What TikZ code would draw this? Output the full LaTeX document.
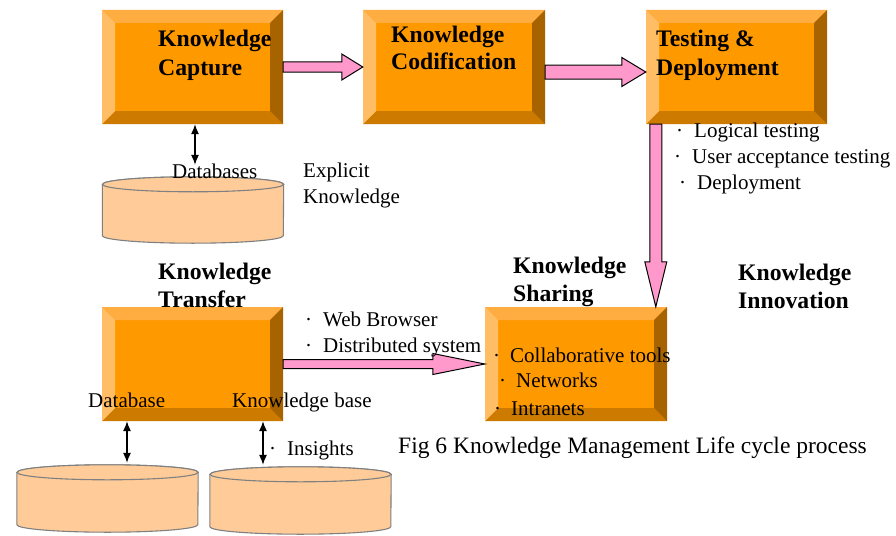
\documentclass[tikz,border=0pt]{standalone}
\usepackage{fontspec}
\setmainfont{Liberation Serif}
\usetikzlibrary{calc,arrows.meta}

\definecolor{kmface}{HTML}{FF9900}
\definecolor{kmtop}{HTML}{FFAD40}
\definecolor{kmleft}{HTML}{FFBE66}
\definecolor{kmright}{HTML}{A66300}
\definecolor{kmbottom}{HTML}{CC7A00}
\definecolor{kmdb}{HTML}{FFCC99}
\definecolor{kmdbline}{HTML}{808080}
\definecolor{kmpink}{HTML}{FF99CC}

\newcommand\kmbev{13pt}

% horizontal block arrow: start, end, shaft half-height, head half-height, head length
\newcommand\kmharrow[5]{%
  \filldraw[pinkarrow] let \p1=(#1), \p2=(#2) in
    (\x1,\y1+#3) -- (\x2-#5,\y1+#3) -- (\x2-#5,\y1+#4) -- (\x2,\y1)
    -- (\x2-#5,\y1-#4) -- (\x2-#5,\y1-#3) -- (\x1,\y1-#3) -- cycle;}
% downward block arrow: start, end, shaft half-width, head half-width, head length
\newcommand\kmvarrow[5]{%
  \filldraw[pinkarrow] let \p1=(#1), \p2=(#2) in
    (\x1-#3,\y1) -- (\x1-#3,\y2+#5) -- (\x1-#4,\y2+#5) -- (\x1,\y2)
    -- (\x1+#4,\y2+#5) -- (\x1+#3,\y2+#5) -- (\x1+#3,\y1) -- cycle;}
% cylinder drawn over an invisible rectangle node
\newcommand\kmcyl[1]{%
  \filldraw[dbshape] ([yshift=-7.5pt]#1.north west) -- ([yshift=7.5pt]#1.south west)
    arc[start angle=180, end angle=360, x radius=90.5pt, y radius=7.5pt]
    -- ([yshift=-7.5pt]#1.north east)
    arc[start angle=0, end angle=180, x radius=90.5pt, y radius=7.5pt] -- cycle;
  \draw[dbshape] ([yshift=-7.5pt]#1.north) ellipse [x radius=90.5pt, y radius=7.5pt];}

\tikzset{
  bevelbox/.style={rectangle, inner sep=0pt, minimum width=#1, minimum height=114pt,
    fill=kmface, path picture={
      \fill[kmtop] (path picture bounding box.north west) -- (path picture bounding box.north east)
        -- ([xshift=-\kmbev,yshift=-\kmbev]path picture bounding box.north east)
        -- ([xshift=\kmbev,yshift=-\kmbev]path picture bounding box.north west) -- cycle;
      \fill[kmbottom] (path picture bounding box.south west) -- (path picture bounding box.south east)
        -- ([xshift=-\kmbev,yshift=\kmbev]path picture bounding box.south east)
        -- ([xshift=\kmbev,yshift=\kmbev]path picture bounding box.south west) -- cycle;
      \fill[kmleft] (path picture bounding box.north west) -- (path picture bounding box.south west)
        -- ([xshift=\kmbev,yshift=\kmbev]path picture bounding box.south west)
        -- ([xshift=\kmbev,yshift=-\kmbev]path picture bounding box.north west) -- cycle;
      \fill[kmright] (path picture bounding box.north east) -- (path picture bounding box.south east)
        -- ([xshift=-\kmbev,yshift=\kmbev]path picture bounding box.south east)
        -- ([xshift=-\kmbev,yshift=-\kmbev]path picture bounding box.north east) -- cycle;
    }},
  bevelbox/.default=181pt,
  dbnode/.style={rectangle, inner sep=0pt, minimum width=181pt, minimum height=#1},
  dbshape/.style={fill=kmdb, draw=kmdbline, line width=1.1pt},
  pinkarrow/.style={fill=kmpink, draw=black, line width=1pt, line join=miter},
  dblarrow/.style={{Latex[length=10pt,width=8pt]}-{Latex[length=10pt,width=8pt]}, line width=1.1pt},
  lbl/.style={anchor=base west, inner sep=0pt, font=\fontsize{21}{25}\selectfont},
  captext/.style={anchor=base west, inner sep=0pt, font=\fontsize{23.5}{28}\selectfont},
  head/.style={anchor=base west, inner sep=0pt, font=\fontsize{23.7}{28}\selectfont\bfseries},
}

\begin{document}
\begin{tikzpicture}[x=1pt, y=-1pt]
  \fill[white] (0,0) rectangle (896,535);
  \useasboundingbox (0,0) rectangle (896,535);

  % process boxes
  \node[bevelbox] (capt) at (192.5,67) {};
  \node[bevelbox=182pt] (codi) at (454,67) {};
  \node[bevelbox] (test) at (736.5,67) {};
  \node[bevelbox] (trans) at (192.5,364) {};
  \node[bevelbox=182pt] (share) at (576,364) {};

  % data stores
  \node[dbnode=66pt] (db1) at (193,210) {};
  \node[dbnode=67pt] (db2) at (107.5,498.5) {};
  \node[dbnode=67pt] (db3) at (300.5,500.5) {};
  \kmcyl{db1}
  \kmcyl{db2}
  \kmcyl{db3}

  % flow between stages
  \kmharrow{capt.east}{codi.west}{5pt}{13pt}{21pt}
  \kmharrow{[yshift=-5pt]codi.east}{test.west}{7pt}{14.5pt}{24pt}
  \kmvarrow{[xshift=10pt]test.south west}{share.north}{6pt}{11pt}{45pt}
  \kmharrow{trans.east}{share.west}{4.5pt}{10.5pt}{52pt}

  % store access
  \draw[dblarrow] ([xshift=2pt]db1.north |- capt.south) -- ([xshift=2pt,yshift=12pt]db1.north);
  \draw[dblarrow] ([xshift=19.5pt]db2.north |- trans.south) -- ([xshift=19.5pt,yshift=2pt]db2.north);
  \draw[dblarrow] ([xshift=-37.5pt]db3.north |- trans.south) -- ([xshift=-37.5pt,yshift=2pt]db3.north);

  % stage titles
  \node[head] (captA) at (158,47) {Knowledge};
  \node[head] (captB) at (158,75) {Capture};
  \node[head] (codiA) at (391,42) {Knowledge};
  \node[head] (codiB) at (391,70) {Codification};
  \node[head] (testA) at (656,47) {Testing \&};
  \node[head] (testB) at (656,75) {Deployment};
  \node[head] (transA) at (158,279) {Knowledge};
  \node[head] (transB) at (158,307) {Transfer};
  \node[head] (shareA) at (513,273) {Knowledge};
  \node[head] (shareB) at (513,301) {Sharing};
  \node[head] (innoA) at (738,280) {Knowledge};
  \node[head] (innoB) at (738,308) {Innovation};

  % plain labels
  \node[lbl] (dbs) at (172,178) {Databases};
  \node[lbl] (explA) at (303,177) {Explicit};
  \node[lbl] (explB) at (303,203) {Knowledge};
  \node[lbl] (dbase) at (88,407) {Database};
  \node[lbl] (kbase) at (232,407) {Knowledge base};

  % bullet lists
  \node[lbl] (tst1) at (676,137) {·\hspace{11pt}Logical testing};
  \node[lbl] (tst2) at (674,163) {·\hspace{11pt}User acceptance testing};
  \node[lbl] (tst3) at (679,189) {·\hspace{11pt}Deployment};
  \node[lbl] (web1) at (305,326) {·\hspace{11pt}Web Browser};
  \node[lbl] (web2) at (305,352) {·\hspace{11pt}Distributed system};
  \node[lbl] (col1) at (493,362) {·\hspace{10pt}Collaborative tools};
  \node[lbl] (col2) at (499,387) {·\hspace{10pt}Networks};
  \node[lbl] (col3) at (494,415) {·\hspace{10pt}Intranets};
  \node[lbl] (ins) at (269,455) {·\hspace{11pt}Insights};

  % caption
  \node[captext] (caption) at (398,453) {Fig 6 Knowledge Management Life cycle process};
\end{tikzpicture}
\end{document}
